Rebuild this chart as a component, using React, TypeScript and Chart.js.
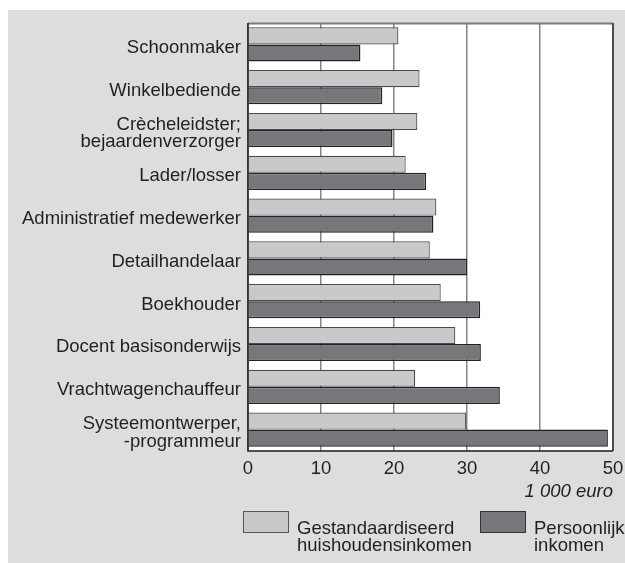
import React, { useEffect, useRef } from "react";
import { Chart, registerables } from "chart.js";

Chart.register(...registerables);

const categories: (string | string[])[] = [
  "Schoonmaker",
  "Winkelbediende",
  ["Crècheleidster;", "bejaardenverzorger"],
  "Lader/losser",
  "Administratief medewerker",
  "Detailhandelaar",
  "Boekhouder",
  "Docent basisonderwijs",
  "Vrachtwagenchauffeur",
  ["Systeemontwerper,", "-programmeur"],
];

const householdIncome = [20.6, 23.5, 23.2, 21.6, 25.8, 24.9, 26.4, 28.4, 22.9, 29.9];
const personalIncome = [15.4, 18.4, 19.8, 24.4, 25.4, 30.0, 31.8, 31.9, 34.5, 49.3];

const seriesLabels = [
  ["Gestandaardiseerd", "huishoudensinkomen"],
  ["Persoonlijk", "inkomen"],
];
const unitLabel = "1 000 euro";
const xTicks = [0, 10, 20, 30, 40, 50];

const FONT = "'Liberation Sans', Arial, Helvetica, sans-serif";
const FS = 18.5;
const BG = "#dcdddf";
const LIGHT = "#c8c9cb";
const DARK = "#76777b";
const TEXT = "#231f20";
const LINE_H = 17.3;

const decorPlugin = {
  id: "decor",
  beforeDraw(chart: any) {
    const { ctx, chartArea: a } = chart;
    ctx.save();
    ctx.fillStyle = BG;
    ctx.fillRect(8, 10, 617, 553);
    ctx.fillStyle = "#ffffff";
    ctx.fillRect(a.left, a.top, a.right - a.left, a.bottom - a.top);
    ctx.restore();
  },
  afterDatasetsDraw(chart: any) {
    const { ctx, chartArea: a } = chart;
    ctx.save();
    // top border (grey)
    ctx.strokeStyle = "#7a7a7a";
    ctx.lineWidth = 2;
    ctx.beginPath();
    ctx.moveTo(a.left, a.top + 0.5);
    ctx.lineTo(a.right, a.top + 0.5);
    ctx.stroke();
    // right border
    ctx.strokeStyle = "#333333";
    ctx.lineWidth = 1.5;
    ctx.beginPath();
    ctx.moveTo(a.right, a.top);
    ctx.lineTo(a.right, a.bottom);
    ctx.stroke();
    // left and bottom
    ctx.strokeStyle = "#1a1a1a";
    ctx.lineWidth = 1.5;
    ctx.beginPath();
    ctx.moveTo(a.left, a.top);
    ctx.lineTo(a.left, a.bottom);
    ctx.lineTo(a.right, a.bottom);
    ctx.stroke();

    // category labels
    const yScale = chart.scales.y;
    ctx.fillStyle = TEXT;
    ctx.font = `${FS}px ${FONT}`;
    ctx.textAlign = "right";
    ctx.textBaseline = "alphabetic";
    categories.forEach((c, i) => {
      const lines = Array.isArray(c) ? c : [c];
      const yc = yScale.getPixelForValue(i);
      const first = yc + 8.3 - ((lines.length - 1) * LINE_H) / 2;
      lines.forEach((t, j) => ctx.fillText(t, a.left - 7, first + j * LINE_H));
    });

    // unit label
    ctx.font = `italic ${FS}px ${FONT}`;
    ctx.fillText(unitLabel, a.right, 497);

    // legend
    const boxes = [
      { x: 243, fill: LIGHT, stroke: "#555555", text: seriesLabels[0] },
      { x: 480, fill: DARK, stroke: "#333333", text: seriesLabels[1] },
    ];
    ctx.font = `${FS}px ${FONT}`;
    ctx.textAlign = "left";
    boxes.forEach((b) => {
      ctx.fillStyle = b.fill;
      ctx.fillRect(b.x, 511, 46, 22);
      ctx.strokeStyle = b.stroke;
      ctx.lineWidth = 1;
      ctx.strokeRect(b.x + 0.5, 511.5, 45, 21);
      ctx.fillStyle = TEXT;
      b.text.forEach((t, i) => ctx.fillText(t, b.x + 54, 533.5 + i * 17.4));
    });
    ctx.restore();
  },
};

export default function App() {
  const ref = useRef<HTMLCanvasElement | null>(null);

  useEffect(() => {
    if (!ref.current) return;
    const chart = new Chart(ref.current, {
      type: "bar",
      data: {
        labels: categories as any,
        datasets: [
          {
            label: seriesLabels[0].join(" "),
            data: householdIncome,
            backgroundColor: LIGHT,
            borderColor: "#4a4a4a",
            borderWidth: 1.2,
            categoryPercentage: 0.8,
            barPercentage: 1.0,
          },
          {
            label: seriesLabels[1].join(" "),
            data: personalIncome,
            backgroundColor: DARK,
            borderColor: "#222222",
            borderWidth: 1.5,
            categoryPercentage: 0.8,
            barPercentage: 1.0,
          },
        ],
      },
      options: {
        indexAxis: "y",
        animation: false,
        responsive: false,
        maintainAspectRatio: false,
        layout: { padding: { left: 0, top: 23, right: 12, bottom: 0 } },
        plugins: {
          legend: { display: false },
          tooltip: { enabled: false },
          title: { display: false },
        },
        scales: {
          x: {
            type: "linear",
            min: 0,
            max: 50,
            afterBuildTicks(scale: any) {
              scale.ticks = xTicks.map((v) => ({ value: v }));
            },
            afterFit(scale: any) {
              scale.height = 112;
              scale.paddingLeft = 0;
              scale.paddingRight = 0;
            },
            grid: {
              color: "#858585",
              lineWidth: 1.5,
              drawTicks: false,
            },
            border: { display: false },
            ticks: {
              padding: 7,
              color: TEXT,
              font: { family: FONT, size: FS },
              maxRotation: 0,
            },
          },
          y: {
            type: "category",
            afterFit(scale: any) {
              scale.width = 248;
              scale.paddingTop = 0;
              scale.paddingBottom = 0;
            },
            grid: { display: false, drawTicks: false },
            border: { display: false },
            ticks: { display: false },
          },
        },
      },
      plugins: [decorPlugin],
    } as any);
    return () => chart.destroy();
  }, []);

  return (
    <div style={{ position: "fixed", left: 0, top: 0, width: 625, height: 563 }}>
      <canvas ref={ref} width={625} height={563} style={{ display: "block", width: 625, height: 563 }} />
    </div>
  );
}
